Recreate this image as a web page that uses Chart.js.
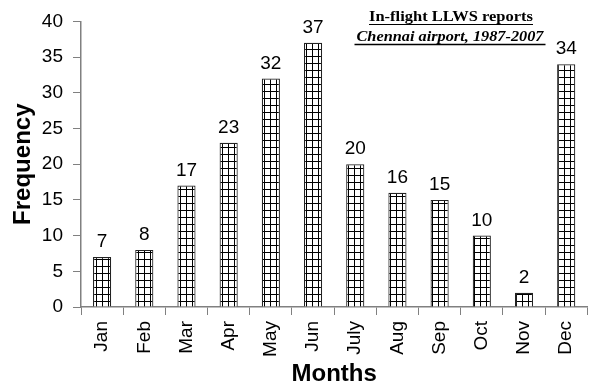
<!DOCTYPE html>
<html>
<head>
<meta charset="utf-8">
<style>
  html, body { margin: 0; padding: 0; background: #fff; }
  #wrap { width: 595px; height: 389px; position: relative; }
</style>
<script src="https://cdn.jsdelivr.net/npm/chart.js@4.4.1/dist/chart.umd.min.js"></script>
</head>
<body>
<div id="wrap"><canvas id="chart" width="595" height="389"></canvas></div>
<script>
// Monthly counts of in-flight low-level wind shear reports
const months = ['Jan', 'Feb', 'Mar', 'Apr', 'May', 'Jun', 'July', 'Aug', 'Sep', 'Oct', 'Nov', 'Dec'];
const frequency = [7, 8, 17, 23, 32, 37, 20, 16, 15, 10, 2, 34];
const yTicks = [0, 5, 10, 15, 20, 25, 30, 35, 40];
const titleLines = ['In-flight LLWS reports', 'Chennai airport, 1987-2007'];

// White fill with a fine black grid (cross-hatch) for the bars
function gridPattern() {
  const c = document.createElement('canvas');
  c.width = 6; c.height = 7;
  const g = c.getContext('2d');
  g.fillStyle = '#ffffff';
  g.fillRect(0, 0, 6, 7);
  g.fillStyle = '#000000';
  g.fillRect(0, 0, 1, 7);
  g.fillRect(0, 0, 6, 1);
  return g.createPattern(c, 'repeat');
}

const SANS = '"Liberation Sans", Arial, sans-serif';
const SERIF = '"Liberation Serif", "Times New Roman", serif';

// Value labels above each bar
const valueLabels = {
  id: 'valueLabels',
  afterDatasetsDraw(chart) {
    const ctx = chart.ctx;
    const meta = chart.getDatasetMeta(0);
    ctx.save();
    ctx.font = '19px ' + SANS;
    ctx.fillStyle = '#000';
    ctx.textAlign = 'center';
    ctx.textBaseline = 'alphabetic';
    meta.data.forEach((bar, i) => {
      ctx.fillText(String(frequency[i]), bar.x, bar.y - 10);
    });
    ctx.restore();
  }
};

// Underlined two-line caption in the upper right, each line stretched to its width
function captionLine(ctx, text, font, cx, baseline, width, underlineY, lineW, extra) {
  ctx.font = font;
  const natural = ctx.measureText(text).width;
  ctx.save();
  ctx.translate(cx, baseline);
  ctx.scale(width / natural, 1);
  ctx.textAlign = 'center';
  ctx.fillText(text, 0, 0);
  ctx.restore();
  ctx.lineWidth = lineW;
  ctx.beginPath();
  ctx.moveTo(cx - width / 2 - extra, underlineY);
  ctx.lineTo(cx + width / 2 + extra, underlineY);
  ctx.stroke();
}

const caption = {
  id: 'caption',
  afterDraw(chart) {
    const ctx = chart.ctx;
    ctx.save();
    ctx.fillStyle = '#000';
    ctx.strokeStyle = '#000';
    ctx.textBaseline = 'alphabetic';
    captionLine(ctx, titleLines[0], 'bold 14px ' + SERIF, 451, 21, 164, 24.5, 1, 0);
    captionLine(ctx, titleLines[1], 'italic bold 14px ' + SERIF, 450, 41, 187, 44.5, 1.6, 2);
    ctx.restore();
  }
};

new Chart(document.getElementById('chart'), {
  type: 'bar',
  data: {
    labels: months,
    datasets: [{
      data: frequency,
      backgroundColor: gridPattern(),
      borderColor: '#222',
      borderWidth: 1.2,
      barPercentage: 0.43,
      categoryPercentage: 1.0
    }]
  },
  options: {
    responsive: false,
    animation: false,
    devicePixelRatio: 1,
    layout: { padding: { top: 17, right: 0, bottom: 0, left: 0 }, autoPadding: false },
    plugins: {
      legend: { display: false },
      tooltip: { enabled: false },
      title: { display: false }
    },
    scales: {
      x: {
        grid: {
          display: true,
          drawOnChartArea: false,
          drawTicks: true,
          tickLength: 8,
          color: '#808080',
          offset: true
        },
        border: { display: true, color: '#808080', width: 1.5 },
        ticks: {
          color: '#000',
          font: { family: SANS, size: 19 },
          minRotation: 90,
          maxRotation: 90,
          padding: 6,
          autoSkip: false
        },
        title: {
          display: true,
          text: 'Months',
          color: '#000',
          font: { family: SANS, size: 24, weight: 'bold' },
          padding: { top: 0, bottom: 0 }
        },
        afterFit(scale) { scale.height = 82; }
      },
      y: {
        min: 0,
        max: 40,
        afterBuildTicks(scale) { scale.ticks = yTicks.map(v => ({ value: v })); },
        grid: {
          display: true,
          drawOnChartArea: false,
          drawTicks: true,
          tickLength: 8,
          color: '#808080'
        },
        border: { display: true, color: '#808080', width: 1.5 },
        ticks: {
          color: '#000',
          font: { family: SANS, size: 19 },
          padding: 10
        },
        title: {
          display: true,
          text: 'Frequency',
          color: '#000',
          font: { family: SANS, size: 24, weight: 'bold' },
          padding: { top: 8.5, bottom: 0 }
        },
        afterFit(scale) { scale.width = 81; }
      }
    }
  },
  plugins: [valueLabels, caption]
});
</script>
</body>
</html>
